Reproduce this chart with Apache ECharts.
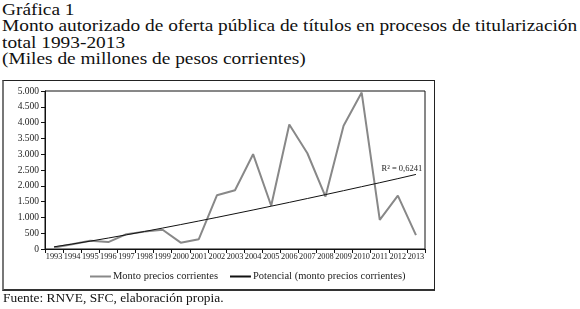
<!DOCTYPE html>
<html><head><meta charset="utf-8">
<script src="https://cdn.jsdelivr.net/npm/echarts@6/dist/echarts.min.js"></script>
<style>
html,body{margin:0;padding:0;background:#fff;}
#t{position:absolute;left:2px;top:2px;font-family:"Liberation Serif",serif;font-size:16px;line-height:16.3px;color:#111;white-space:nowrap;transform:scaleX(1.21);transform-origin:0 0;}
#f{position:absolute;left:3px;top:290px;font-family:"Liberation Serif",serif;font-size:13.4px;color:#111;white-space:nowrap;}
#box{position:absolute;left:2px;top:80px;width:430px;height:208px;border:1px solid #222;border-left:2px solid #777;border-bottom:2px solid #333;}
#c{position:absolute;left:0;top:0;width:580px;height:309px;}
</style></head>
<body>
<div id="t">Gráfica 1<br>Monto autorizado de oferta pública de títulos en procesos de titularización<br>total 1993-2013<br>(Miles de millones de pesos corrientes)</div>
<div id="box"></div>
<div id="c"></div>
<div id="f">Fuente: RNVE, SFC, elaboración propia.</div>
<script>
const years = ['1993','1994','1995','1996','1997','1998','1999','2000','2001','2002','2003','2004','2005','2006','2007','2008','2009','2010','2011','2012','2013'];
const monto = [50,150,260,220,470,550,610,200,310,1700,1860,3000,1370,3940,3030,1660,3900,4950,920,1690,440];
const potencial = [70,156,249,347,449,554,663,773,886,1000,1117,1235,1355,1475,1598,1721,1846,1972,2098,2227,2360];
const yTicks = {min:0,max:5000,interval:500};
const seriesNames = ['Monto precios corrientes','Potencial (monto precios corrientes)'];
const r2Label = 'R² = 0,6241';

const ch = echarts.init(document.getElementById('c'), null, {renderer:'canvas'});
const serif = 'Liberation Serif';
ch.setOption({
  animation:false,
  grid:{left:45,top:91,width:380,height:158,show:true,borderColor:'#111',borderWidth:1,containLabel:false},
  legend:{top:271,left:90,padding:0,itemGap:12,itemWidth:21,itemHeight:2,icon:'rect',
    textStyle:{fontFamily:serif,fontSize:10.5,color:'#222',padding:[0,0,0,-3]},
    data:seriesNames},
  xAxis:{type:'category',data:years,boundaryGap:true,
    axisLine:{lineStyle:{color:'#111',width:1}},
    axisTick:{show:true,length:4,lineStyle:{color:'#111'}},
    axisLabel:{fontFamily:serif,fontSize:8.3,color:'#222',margin:4,interval:0}},
  yAxis:{type:'value',min:yTicks.min,max:yTicks.max,interval:yTicks.interval,
    axisLine:{show:true,lineStyle:{color:'#111',width:1}},
    axisTick:{show:true,length:4,lineStyle:{color:'#111'}},
    splitLine:{show:false},
    axisLabel:{fontFamily:serif,fontSize:9.5,color:'#222',margin:6,
      formatter:v=>v.toLocaleString('de-DE')}},
  series:[
    {name:seriesNames[0],type:'line',data:monto,symbol:'none',lineStyle:{color:'#888',width:2},itemStyle:{color:'#888'},z:2},
    {name:seriesNames[1],type:'line',data:potencial,symbol:'none',lineStyle:{color:'#111',width:1},itemStyle:{color:'#111'},z:3,
     markPoint:{symbol:'circle',symbolSize:0,data:[{coord:[years[19],potencial[19]],value:r2Label}],
       label:{show:true,formatter:r2Label,position:'top',distance:5,fontFamily:serif,fontSize:8.5,color:'#222',offset:[4,0]}}}
  ]
});
</script>
</body></html>
